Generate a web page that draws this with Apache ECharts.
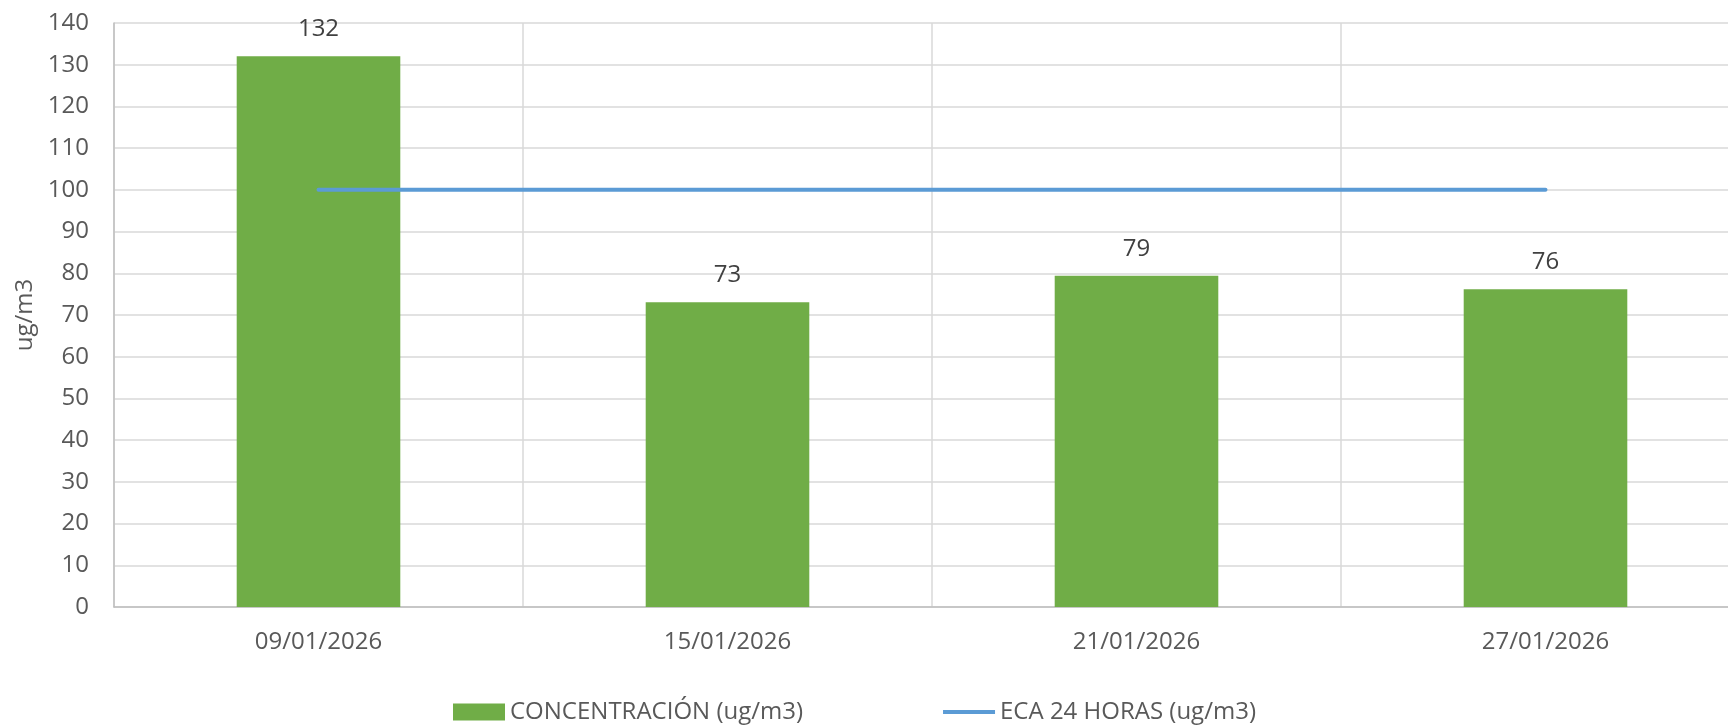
<!DOCTYPE html>
<html>
<head>
<meta charset="utf-8">
<title>Concentración</title>
<script src="https://cdn.jsdelivr.net/npm/echarts@6/dist/echarts.min.js"></script>
<style>
  html, body { margin: 0; padding: 0; background: #fff; overflow: hidden; }
  /* el gráfico original queda recortado por la derecha */
  #main { width: 1750px; height: 727px; }
</style>
</head>
<body>
<div id="main"></div>
<script>
var fechas = ['09/01/2026', '15/01/2026', '21/01/2026', '27/01/2026'];
var concentracion = [132.0, 73.05, 79.4, 76.2];
var eca24 = [100, 100, 100, 100];
var nombreBarra = 'CONCENTRACIÓN (ug/m3)';
var nombreLinea = 'ECA 24 HORAS (ug/m3)';

var fuente = '"Open Sans", "Noto Sans", sans-serif';
var myChart = echarts.init(document.getElementById('main'), null, { renderer: 'canvas' });

var option = {
    animation: false,
    textStyle: { fontFamily: fuente },
    grid: {
        left: 114,
        right: 0,
        top: 23,
        bottom: 120
    },
    legend: {
        left: 453,
        top: 700,
        padding: 0,
        itemWidth: 52,
        itemHeight: 17,
        itemGap: 140,
        textStyle: { fontSize: 24, color: '#595959', fontFamily: fuente },
        data: [
            { name: nombreBarra, icon: 'rect' },
            { name: nombreLinea, icon: 'path://M0,0 L52,0 L52,4 L0,4 Z' }
        ]
    },
    xAxis: {
        type: 'category',
        data: fechas,
        boundaryGap: true,
        axisLine: { show: true, lineStyle: { color: '#BFBFBF', width: 1.5 } },
        axisTick: { show: false },
        axisLabel: { fontSize: 24, color: '#595959', margin: 23, fontFamily: fuente },
        splitLine: { show: true, interval: 0, lineStyle: { color: '#D9D9D9', width: 1.5 } }
    },
    yAxis: {
        type: 'value',
        min: 0,
        max: 140,
        interval: 10,
        name: 'ug/m3',
        nameLocation: 'middle',
        nameGap: 76,
        nameRotate: 90,
        nameTextStyle: { fontSize: 24, color: '#595959', fontFamily: fuente },
        axisLine: { show: true, lineStyle: { color: '#BFBFBF', width: 1.5 } },
        axisTick: { show: false },
        axisLabel: { fontSize: 24, color: '#595959', margin: 25, fontFamily: fuente },
        splitLine: { show: true, lineStyle: { color: '#D9D9D9', width: 1.5 } }
    },
    series: [
        {
            name: nombreBarra,
            type: 'bar',
            data: concentracion,
            barWidth: '40%',
            itemStyle: { color: '#70AD47' },
            label: {
                show: true,
                position: 'top',
                distance: 15,
                fontSize: 24,
                color: '#404040',
                fontFamily: fuente,
                formatter: function (p) { return Math.round(p.value); }
            }
        },
        {
            name: nombreLinea,
            type: 'line',
            data: eca24,
            symbol: 'none',
            showSymbol: false,
            z: 3,
            lineStyle: { color: '#5B9BD5', width: 4, cap: 'round' },
            itemStyle: { color: '#5B9BD5' }
        }
    ]
};

myChart.setOption(option);
</script>
</body>
</html>
